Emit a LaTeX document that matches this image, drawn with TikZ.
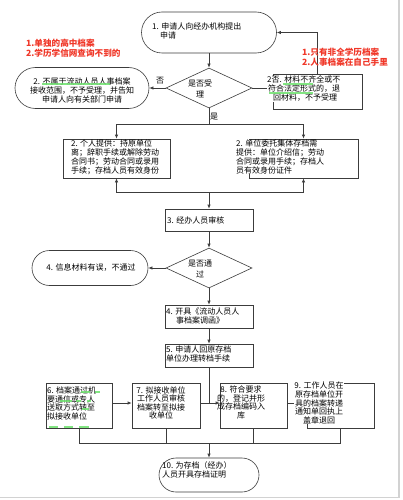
\documentclass[tikz,border=0pt]{standalone}
\usepackage{fontspec}
\setmainfont{Noto Sans CJK SC}
\usetikzlibrary{shapes.geometric,arrows.meta}
\definecolor{redtxt}{RGB}{240,55,40}
\definecolor{hl}{RGB}{110,225,110}
\definecolor{edge}{RGB}{60,60,60}
\begin{document}
\begin{tikzpicture}[x=1pt,y=-1pt,
  ln/.style={draw=edge,line width=0.6pt},
  arr/.style={ln,-{Latex[length=4pt,width=3.2pt]}},
  boxs/.style={ln,rectangle,inner sep=0pt},
  stad/.style={ln,rectangle,inner sep=0pt},
  dia/.style={ln,diamond,inner sep=0pt},
  txt/.style={inner sep=0pt,align=left,font=\fontsize{8}{9}\selectfont},
  tsm/.style={inner sep=0pt,align=left,font=\fontsize{8}{8.6}\selectfont},
  redt/.style={inner sep=0pt,align=left,text=redtxt,font=\fontsize{8.6}{10}\selectfont\bfseries},
  hls/.style={draw=hl,line width=1.4pt,opacity=0.85}]
\useasboundingbox (0,0) rectangle (403,500);
\fill[white] (0,0) rectangle (403,500);
\draw[gray!35,line width=1.2pt] (399,0) -- (399,497.5) -- (0,497.5);

% shapes
\node[stad,rounded corners=20.5pt,minimum width=135pt,minimum height=41pt] (n1) at (209,32.5) {};
\node[dia,minimum width=86pt,minimum height=40pt] (d1) at (209,88) {};
\node[stad,rounded corners=20.5pt,minimum width=134pt,minimum height=41pt] (s2) at (82,88) {};
\node[boxs,minimum width=89pt,minimum height=35pt] (r2) at (317.5,91.5) {};
\node[boxs,minimum width=107pt,minimum height=39pt] (bA) at (116.5,158.5) {};
\node[boxs,minimum width=109pt,minimum height=39pt] (bB) at (303.5,158.5) {};
\node[boxs,minimum width=88pt,minimum height=22pt] (b3) at (209,220) {};
\node[dia,minimum width=86pt,minimum height=40pt] (d2) at (209,268) {};
\node[stad,rounded corners=17.5pt,minimum width=116pt,minimum height=35pt] (s4) at (90,268) {};
\node[boxs,minimum width=88pt,minimum height=23pt] (b4) at (209,316.5) {};
\node[boxs,minimum width=88pt,minimum height=23pt] (b5) at (209,355.5) {};
\node[boxs,minimum width=66pt,minimum height=45pt] (b6) at (79,405.5) {};
\node[boxs,minimum width=68pt,minimum height=45pt] (b7) at (166,405.5) {};
\node[boxs,minimum width=67pt,minimum height=45pt] (b8) at (253.5,405.5) {};
\node[boxs,minimum width=67pt,minimum height=45pt] (b9) at (340.5,405.5) {};
\node[stad,rounded corners=17pt,minimum width=100pt,minimum height=34pt] (n10) at (209,475) {};

% connectors
\draw[arr] (n1.south) -- (d1.north);
\draw[arr] (d1.west) -- (s2.east);
\draw[arr] (d1.east) -- (d1.east -| r2.west);
\draw[arr] (r2.north) |- (n1.east);
\coordinate (j1) at (209,124);
\draw[ln] (d1.south) -- (j1);
\draw[arr] (j1) -| (bA.north);
\draw[arr] (j1) -| (bB.north);
\coordinate (j2) at (209,192);
\draw[arr] (j2) -| (bA.south);
\draw[arr] (j2) -| (bB.south);
\draw[arr] (j2) -- (b3.north);
\draw[arr] (b3.south) -- (d2.north);
\draw[arr] (d2.west) -- (s4.east);
\draw[arr] (d2.south) -- (b4.north);
\draw[arr] (b4.south) -- (b5.north);
\coordinate (j4) at (209,403);
\draw[ln] (b5.south) -- (j4);
\draw[arr] ([yshift=2.5pt]b6.east) -- ([yshift=2.5pt]b7.west);
\draw[arr] ([yshift=2.5pt]b7.east) -- ([yshift=2.5pt]b8.west);
\draw[ln] ([yshift=2.5pt]b8.east) -- ([yshift=2.5pt]b9.west);
\draw[ln] (b9.north west) -- ++(-12,0);
\coordinate (j3) at (209,443);
\draw[ln] (b6.south) |- (b9.south |- j3) -- (b9.south);
\draw[ln] (b7.south) -- (b7.south |- j3);
\draw[ln] (b8.south) -- (b8.south |- j3);
\draw[arr] (j3) -- (n10.north);

% texts
\node[txt,anchor=west] (t1) at (152,30.5) {1. 申请人向经办机构提出\\\hspace*{8pt}申请};
\node[txt,align=center,font=\fontsize{8}{11}\selectfont] (td1) at (200,88.5) {是否受\\理};
\node[txt,align=center] (ts2) at (82,90) {2. 不属于流动人员人事档案\\接收范围，不予受理，并告知\\申请人向有关部门申请};
\node[txt,anchor=west,fill=white] (tr2) at (267,89) {2否. 材料不齐全或不\\\hspace*{1pt}符合法定形式的，退\\\hspace*{6pt}回材料，不予受理};
\node[txt,anchor=west] (tA) at (71,157) {2. 个人提供：持原单位\\离；辞职手续或解除劳动\\合同书；劳动合同或录用\\手续；存档人员有效身份};
\node[txt,anchor=west,fill=white] (tB) at (236,157) {2. 单位委托集体存档需\\提供：单位介绍信；劳动\\合同或录用手续；存档人\\员有效身份证件};
\node[txt,anchor=west] (t3) at (167,220) {3. 经办人员审核};
\node[txt,align=center,font=\fontsize{8}{11}\selectfont] (td2) at (200,268.5) {是否通\\过};
\node[txt,align=center] (ts4) at (91,268) {4. 信息材料有误，不通过};
\node[txt,anchor=west] (t4) at (166,316) {4. 开具《流动人员人\\\hspace*{10pt}事档案调函》};
\node[txt,anchor=west] (t5) at (166,354) {5. 申请人回原存档\\单位办理转档手续};
\node[tsm,anchor=west] (t6) at (47,403.5) {6. 档案通过机\\要通信或专人\\送取方式转至\\拟接收单位};
\node[tsm,align=center] (t7) at (161,403) {7. 拟接收单位\\工作人员审核\\档案转至拟接\\收单位};
\node[tsm,align=center] (t8) at (241,402.5) {8. 符合要求\\的，登记并形\\成存档编码入\\库};
\node[tsm,align=center,fill=white] (t9) at (319,403) {9. 工作人员在\\原存档单位开\\具的档案转递\\通知单回执上\\盖章退回};
\node[txt,anchor=west] (t10) at (162,470) {10. 为存档（经办）\\人员开具存档证明};
\node[txt] (lno) at (160,81) {否};
\node[txt] (lyes) at (214,117) {是};
\node[redt,anchor=west] (redl) at (26,48) {1.单独的高中档案\\2.学历学信网查询不到的};
\node[redt,anchor=west] (redr) at (302,57) {1.只有非全学历档案\\2.人事档案在自己手里};

% highlights
\draw[hls] (42,84) -- (110,84);
\draw[hls] (283,84) -- (313,84);
\draw[hls] (269,93) -- (313,93);
\draw[hls] (81,392) -- (90,392);
\draw[hls] (95,392) -- (100,392);
\draw[hls] (60,401) -- (72,401);
\draw[hls] (76,401) -- (81,401);
\draw[hls] (87,401) -- (91,401);
\draw[hls] (82,409) -- (89,409);
\draw[hls] (49,427) -- (58,427);
\draw[hls] (64,427) -- (73,427);
\draw[hls] (79,427) -- (89,427);
\end{tikzpicture}
\end{document}
